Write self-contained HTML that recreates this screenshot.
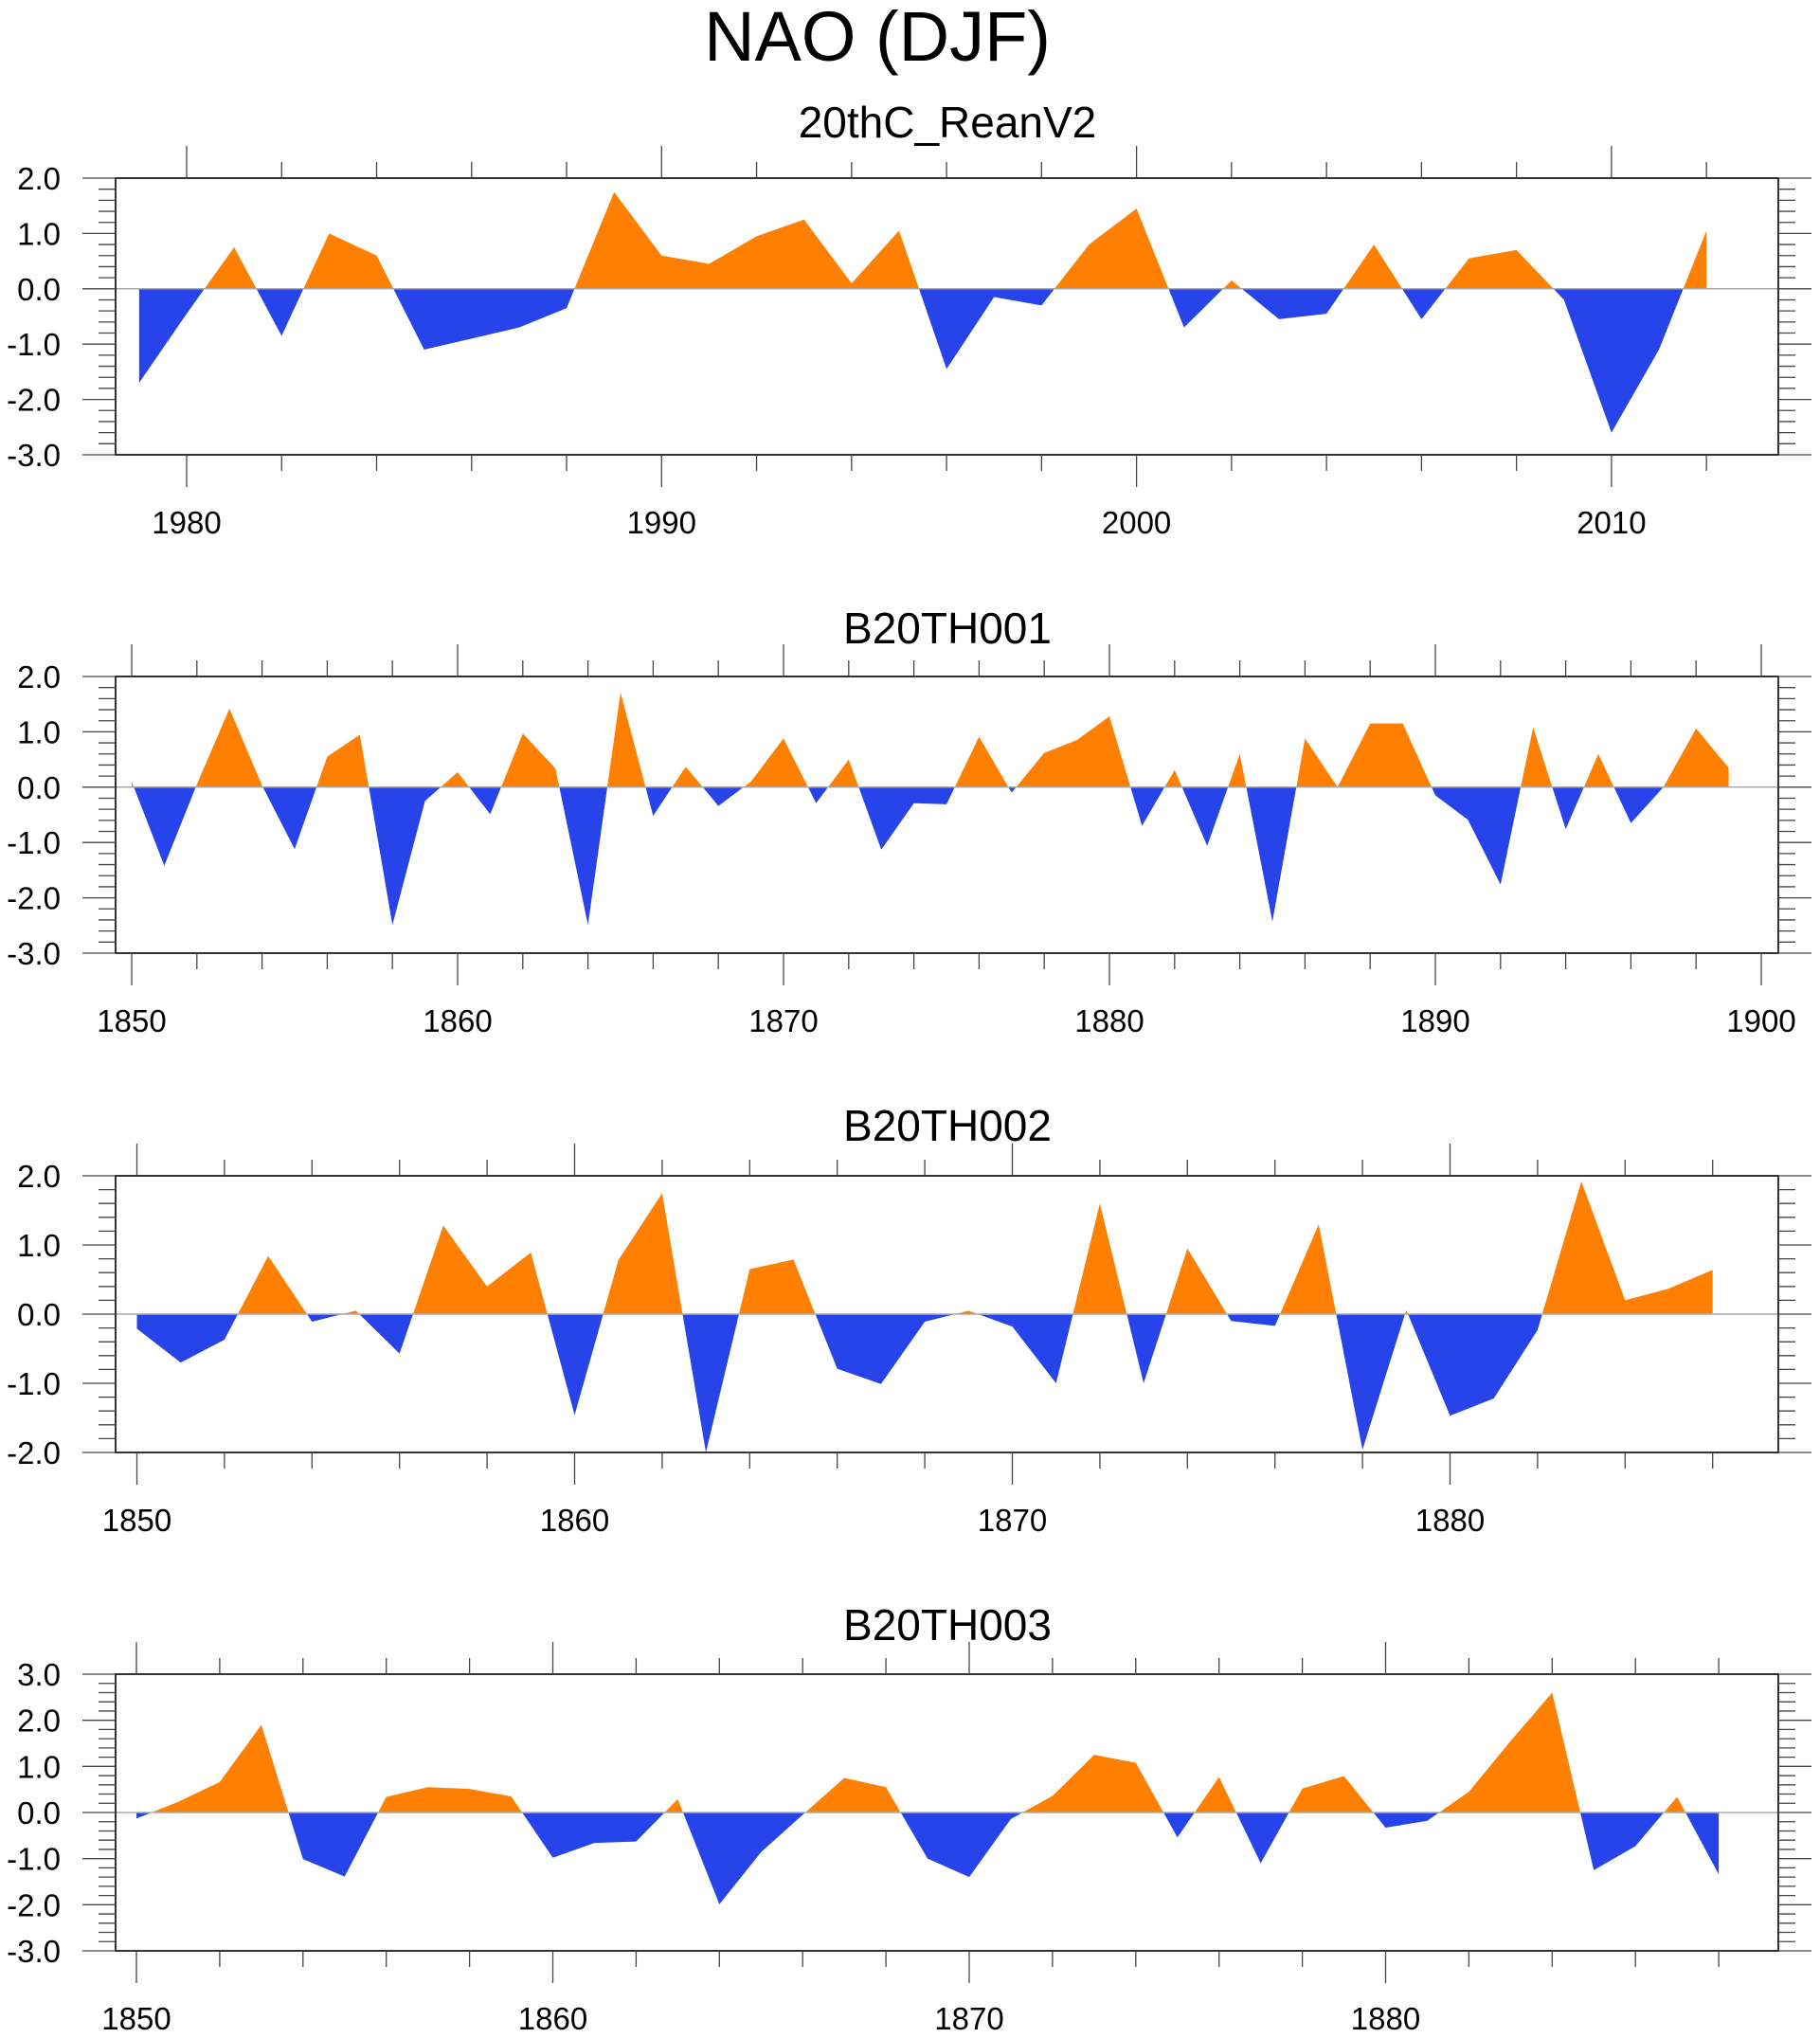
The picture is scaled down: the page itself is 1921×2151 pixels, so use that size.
<!DOCTYPE html>
<html><head><meta charset="utf-8"><style>
html,body{margin:0;padding:0;background:#fff;}
svg{display:block;font-family:"Liberation Sans",Arial,sans-serif;}
</style></head><body>
<svg id="chart" width="1921" height="2151" viewBox="0 0 1921 2151" xmlns="http://www.w3.org/2000/svg">
<text x="926" y="64" font-size="74" text-anchor="middle">NAO (DJF)</text>
</svg>
<script>
// Panel 1: 20thC_ReanV2
const years1Start = 1979;
const values1 = [-1.7,-0.45,0.75,-0.85,1.0,0.6,-1.1,-0.9,-0.7,-0.35,1.75,0.6,0.45,0.95,1.25,0.1,1.05,-1.45,-0.15,-0.3,0.8,1.45,-0.7,0.15,-0.55,-0.45,0.8,-0.55,0.55,0.7,-0.2,-2.6,-1.1,1.05];
const xTicks1 = [1980,1990,2000,2010];
const yTicks1 = [2,1,0,-1,-2,-3];
// Panel 2: B20TH001
const years2Start = 1850;
const values2 = [0.1,-1.42,0.05,1.42,0.03,-1.12,0.55,0.95,-2.49,-0.25,0.27,-0.49,0.97,0.34,-2.49,1.71,-0.52,0.37,-0.34,0.1,0.88,-0.29,0.5,-1.13,-0.29,-0.31,0.91,-0.1,0.62,0.85,1.28,-0.7,0.31,-1.06,0.6,-2.43,0.88,0.0,1.15,1.15,-0.15,-0.59,-1.76,1.08,-0.76,0.6,-0.65,0.0,1.06,0.35];
const xTicks2 = [1850,1860,1870,1880,1890,1900];
const yTicks2 = [2,1,0,-1,-2,-3];
// Panel 3: B20TH002
const years3Start = 1850;
const values3 = [-0.21,-0.7,-0.37,0.84,-0.11,0.05,-0.57,1.28,0.4,0.89,-1.46,0.78,1.75,-2.0,0.65,0.79,-0.79,-1.01,-0.11,0.05,-0.18,-1.0,1.6,-1.0,0.95,-0.1,-0.17,1.3,-1.96,0.06,-1.47,-1.22,-0.23,1.92,0.2,0.37,0.64];
const xTicks3 = [1850,1860,1870,1880];
const yTicks3 = [2,1,0,-1,-2];
// Panel 4: B20TH003
const years4Start = 1850;
const values4 = [-0.13,0.23,0.66,1.9,-1.01,-1.39,0.34,0.55,0.51,0.35,-0.98,-0.66,-0.63,0.29,-1.99,-0.86,-0.05,0.75,0.55,-1.0,-1.4,-0.14,0.36,1.25,1.08,-0.54,0.77,-1.1,0.52,0.79,-0.33,-0.18,0.45,1.55,2.6,-1.25,-0.73,0.34,-1.34];
const xTicks4 = [1850,1860,1870,1880];
const yTicks4 = [3,2,1,0,-1,-2,-3];

const NS = "http://www.w3.org/2000/svg";
const svg = document.getElementById('chart');
function mk(tag, attrs, parent){const e=document.createElementNS(NS,tag);for(const k in attrs)e.setAttribute(k,attrs[k]);(parent||svg).appendChild(e);return e;}

const L = 122, R = 1877;
function drawPanel(idx, title, titleY, top, bottom, yMin, yMax, start, vals, x0px, pxPerYear, xTicks, yTicks, xMinTick, xMaxTick){
  const g = mk('g', {});
  
  
  const xs = yr => x0px + (yr - xTicks[0]) * pxPerYear;
  const ys = v => bottom - (v - yMin) / (yMax - yMin) * (bottom - top);
  const t = mk('text', {x:1000, y:titleY+16, 'font-size':46, 'text-anchor':'middle'}, g);
  t.textContent = title;
  
  
  const y0 = ys(0);
  let pos = '', neg = '';
  for (let i = 0; i < vals.length - 1; i++) {
    const xa = xs(start+i), xb = xs(start+i+1), va = vals[i], vb = vals[i+1];
    const ya = ys(va), yb = ys(vb);
    const seg = (x1,y1,x2,y2) => `M${x1},${y0}L${x1},${y1}L${x2},${y2}L${x2},${y0}Z`;
    if ((va >= 0 && vb >= 0)) pos += seg(xa,ya,xb,yb);
    else if (va <= 0 && vb <= 0) neg += seg(xa,ya,xb,yb);
    else {
      const xc = xa + (xb - xa) * (va / (va - vb));
      const p1 = seg(xa,ya,xc,y0), p2 = seg(xc,y0,xb,yb);
      if (va > 0) { pos += p1; neg += p2; } else { neg += p1; pos += p2; }
    }
  }
  const pp = mk('path', {d:pos, fill:'#ff8000'}, g);
  
  
  const np = mk('path', {d:neg, fill:'#2743ea'}, g);
  
  
  const zl = mk('line', {x1:L, x2:R, y1:y0, y2:y0, stroke:'#aaa', 'stroke-width':1.5}, g);
  
  
  const fr = mk('rect', {x:L, y:top, width:R-L, height:bottom-top, fill:'none', stroke:'#000', 'stroke-width':1.6}, g);
  
  
  for (let yr = xMinTick; yr <= xMaxTick; yr += 2) {
    const x = xs(yr);
    if (x < L - 1 || x > R + 1) continue;
    const major = (yr % 10 === 0);
    const len = major ? 34 : 17;
    mk('line', {x1:x, x2:x, y1:top, y2:top-len, stroke:'#444', 'stroke-width':1.3}, g);
    mk('line', {x1:x, x2:x, y1:bottom, y2:bottom+len, stroke:'#444', 'stroke-width':1.3}, g);
  }
  xTicks.forEach(yr => {
    const lt = mk('text', {x:xs(yr), y:bottom+83, 'font-size':33, 'text-anchor':'middle'}, g);
    lt.textContent = yr;
    
    
  });
  const ymaxT = yTicks[0], yminT = yTicks[yTicks.length-1];
  for (let k = 0; k <= (ymaxT - yminT) * 5; k++) {
    const v = yminT + k * 0.2, y = ys(v);
    const major = (k % 5 === 0);
    const len = major ? 35 : 18;
    mk('line', {x1:L, x2:L-len, y1:y, y2:y, stroke:'#444', 'stroke-width':1.3}, g);
    mk('line', {x1:R, x2:R+len, y1:y, y2:y, stroke:'#444', 'stroke-width':1.3}, g);
  }
  yTicks.forEach(v => {
    const lt = mk('text', {x:64, y:ys(v)+12, 'font-size':33, 'text-anchor':'end'}, g);
    lt.textContent = v.toFixed(1);
    
    
  });
}
drawPanel(1, '20thC_ReanV2', 129, 188, 480, -3, 2, years1Start, values1, 197, 50.13, xTicks1, yTicks1, 1978, 2014);
drawPanel(2, 'B20TH001', 663, 714, 1006, -3, 2, years2Start, values2, 139, 34.4, xTicks2, yTicks2, 1850, 1900);
drawPanel(3, 'B20TH002', 1188, 1241, 1533, -2, 2, years3Start, values3, 144.5, 46.2, xTicks3, yTicks3, 1850, 1888);
drawPanel(4, 'B20TH003', 1715, 1767, 2059, -3, 3, years4Start, values4, 144, 43.95, xTicks4, yTicks4, 1850, 1890);
</script>
</body></html>
